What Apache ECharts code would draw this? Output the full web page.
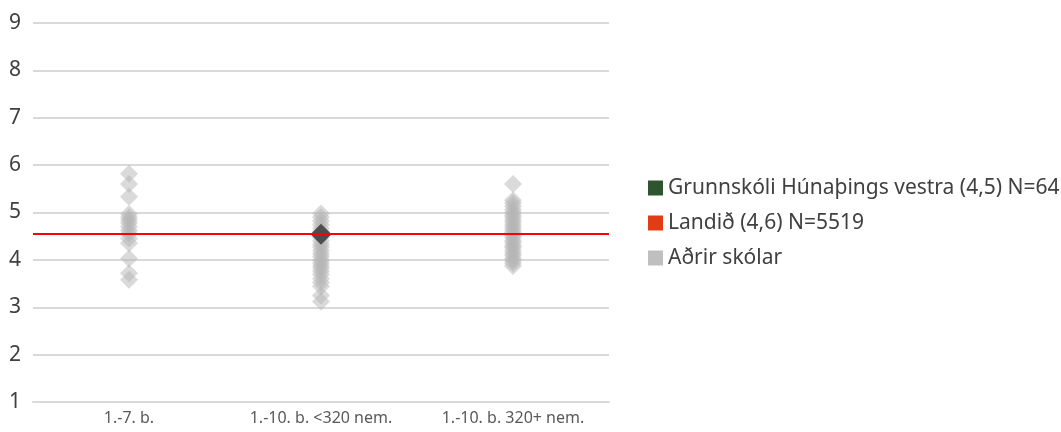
<!DOCTYPE html>
<html>
<head>
<meta charset="utf-8">
<script src="https://cdn.jsdelivr.net/npm/echarts@6/dist/echarts.min.js"></script>
<style>html,body{margin:0;padding:0;background:#fff}#c{width:1061px;height:432px}</style>
</head>
<body>
<div id="c"></div>
<script>
const categories = ['1.-7. b.', '1.-10. b. <320 nem.', '1.-10. b. 320+ nem.'];
const yTicks = [1, 2, 3, 4, 5, 6, 7, 8, 9];
const otherSchools1 = [5.82, 5.6, 5.33, 4.97, 4.9, 4.84, 4.78, 4.7, 4.62, 4.55, 4.45, 4.35, 4.03, 3.72, 3.58];
const otherSchools2 = [4.98, 4.9, 4.82, 4.74, 4.66, 4.6, 4.48, 4.4, 4.33, 4.27, 4.2, 4.13, 4.07, 4.0, 3.94, 3.88, 3.83, 3.76, 3.69, 3.6, 3.52, 3.44, 3.25, 3.12];
const otherSchools3 = [5.6, 5.26, 5.2, 5.13, 5.06, 5.0, 4.94, 4.9, 4.84, 4.79, 4.73, 4.68, 4.62, 4.57, 4.52, 4.47, 4.41, 4.36, 4.3, 4.26, 4.2, 4.14, 4.09, 4.03, 3.98, 3.93, 3.87];
const schoolName = 'Grunnskóli Húnaþings vestra (4,5) N=64';
const schoolCategory = '1.-10. b. <320 nem.';
const schoolValue = 4.54;
const landName = 'Landið (4,6) N=5519';
const landValue = 4.56;
const othersName = 'Aðrir skólar';

const others = [];
[otherSchools1, otherSchools2, otherSchools3].forEach((arr, i) => arr.forEach(v => others.push([categories[i], v])));

const FONT = 'Noto Sans';
const chart = echarts.init(document.getElementById('c'));
chart.setOption({
  animation: false,
  grid: { left: 33, right: 452, top: 23, bottom: 30 },
  xAxis: {
    type: 'category', data: categories,
    axisLine: { show: true, lineStyle: { color: '#d9d9d9', width: 2 } },
    axisTick: { show: false },
    axisLabel: { color: '#595959', fontSize: 16, fontFamily: FONT, margin: 8 },
    splitLine: { show: false }
  },
  yAxis: {
    type: 'value', min: yTicks[0], max: yTicks[yTicks.length - 1], interval: 1,
    axisLine: { show: false }, axisTick: { show: false },
    axisLabel: { color: '#404040', fontSize: 21, fontFamily: FONT, margin: 12, verticalAlign: 'middle', padding: [0, 0, 10, 0] },
    splitLine: { lineStyle: { color: '#d9d9d9', width: 2 } }
  },
  legend: {
    orient: 'vertical', left: 643, top: 172, itemGap: 13,
    itemWidth: 15, itemHeight: 15, icon: 'rect',
    textStyle: { color: '#404040', fontSize: 21, fontFamily: FONT, lineHeight: 22 },
    data: [
      { name: schoolName, itemStyle: { color: '#2e5430', opacity: 1 } },
      { name: landName, itemStyle: { color: '#e03c16', opacity: 1 } },
      { name: othersName, itemStyle: { color: '#bfbfbf', opacity: 1 } }
    ]
  },
  series: [
    {
      name: landName, type: 'line', data: [], z: 1,
      markLine: {
        silent: true, symbol: ['none', 'none'], label: { show: false },
        lineStyle: { color: '#ff0000', width: 2, type: 'solid' },
        data: [{ yAxis: landValue }]
      }
    },
    {
      name: othersName, type: 'scatter', data: others, z: 3,
      symbol: 'diamond', symbolSize: 18,
      itemStyle: { color: '#b5b5b5', opacity: 0.5 }
    },
    {
      name: schoolName, type: 'scatter', data: [[schoolCategory, schoolValue]], z: 4,
      symbol: 'diamond', symbolSize: 21,
      itemStyle: { color: '#4d4d4d', opacity: 1 }
    }
  ]
});
</script>
</body>
</html>
